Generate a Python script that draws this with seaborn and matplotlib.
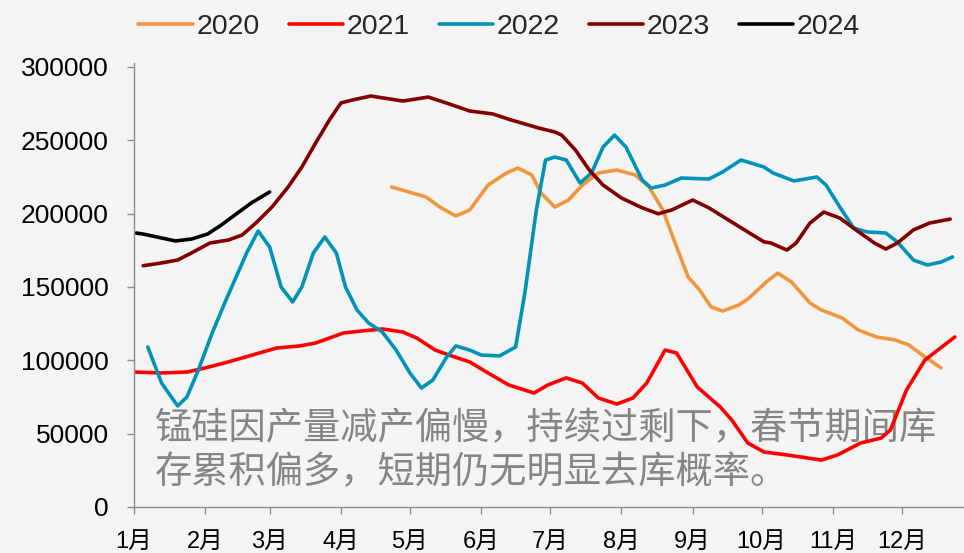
import pandas as pd
import seaborn as sns
import matplotlib.pyplot as plt
import matplotlib.dates as mdates
from matplotlib.ticker import FuncFormatter

# 数据（按图中读数估计）
dates_2020 = ['04-23', '05-08', '05-14', '05-21', '05-27', '06-04', '06-12', '06-17', '06-23',
              '06-27', '07-03', '07-09', '07-15', '07-22', '07-30', '08-07', '08-13', '08-19',
              '08-25', '08-30', '09-04', '09-09', '09-14', '09-21', '09-25', '10-03', '10-08',
              '10-14', '10-22', '10-27', '11-05', '11-12', '11-20', '11-28', '12-04', '12-11',
              '12-18']
vals_2020 = [218200, 211400, 204500, 198400, 202500, 219500, 227700, 231100, 226400,
             214100, 204500, 209300, 219500, 227700, 229800, 226400, 218200, 202500,
             177300, 156800, 148000, 136400, 133600, 137700, 141800, 153400, 159500,
             153400, 139100, 134300, 128900, 120700, 115900, 113900, 110500, 102300,
             94800]

dates_2021 = ['01-01', '01-13', '01-24', '02-01', '02-11', '02-23', '03-04', '03-14', '03-21',
              '04-02', '04-10', '04-19', '04-28', '05-04', '05-12', '05-18', '05-27', '06-04',
              '06-13', '06-24', '06-30', '07-08', '07-15', '07-22', '07-30', '08-06', '08-12',
              '08-20', '08-25', '09-03', '09-13', '09-18', '09-25', '10-02', '10-12', '10-27',
              '11-03', '11-13', '11-22', '11-26', '12-03', '12-11', '12-24']
vals_2021 = [92000, 91400, 92000, 94800, 98900, 104300, 108400, 109800, 111800,
             118600, 120000, 121400, 119300, 115200, 107000, 103600, 98900, 91400,
             83200, 77700, 83200, 88000, 84500, 74300, 70200, 74300, 84500,
             107000, 105000, 81800, 68200, 59300, 43600, 37500, 35500, 32000,
             35500, 43600, 47000, 52500, 79800, 100200, 115900]

dates_2022 = ['01-07', '01-13', '01-20', '01-24', '01-29', '02-04', '02-10', '02-19', '02-24',
              '03-01', '03-06', '03-11', '03-15', '03-20', '03-25', '03-30', '04-03', '04-08',
              '04-13', '04-19', '04-25', '05-01', '05-06', '05-11', '05-17', '05-21', '05-27',
              '06-01', '06-09', '06-16', '06-20', '06-25', '06-29', '07-03', '07-08', '07-14',
              '07-19', '07-24', '07-29', '08-03', '08-10', '08-14', '08-20', '08-27', '09-08',
              '09-14', '09-22', '10-02', '10-06', '10-15', '10-25', '10-29', '11-04', '11-10',
              '11-16', '11-24', '11-29', '12-06', '12-12', '12-18', '12-23']
vals_2022 = [109100, 84500, 68900, 75000, 93400, 118600, 141100, 173200, 188200,
             177300, 150000, 139800, 150000, 173200, 184100, 173200, 150000, 134300,
             125500, 119300, 107000, 91400, 81100, 86600, 102300, 109800, 107000,
             103600, 103000, 109100, 145900, 202500, 236600, 238600, 236600, 220900,
             227700, 245400, 253600, 245400, 223000, 217500, 219500, 224300, 223600,
             228400, 236600, 231800, 227700, 222300, 225000, 219500, 204500, 190200,
             187500, 186800, 180700, 168400, 165000, 167000, 170500]

dates_2023 = ['01-05', '01-13', '01-20', '01-26', '02-03', '02-11', '02-17', '02-23', '03-02',
              '03-09', '03-15', '03-21', '03-27', '04-01', '04-06', '04-14', '04-28', '05-09',
              '05-17', '05-27', '06-06', '06-14', '06-26', '07-03', '07-06', '07-12', '07-18',
              '07-24', '08-01', '08-10', '08-17', '08-23', '09-01', '09-08', '09-15', '09-25',
              '10-02', '10-05', '10-12', '10-16', '10-22', '10-28', '11-04', '11-11', '11-19',
              '11-24', '11-29', '12-06', '12-13', '12-22']
vals_2023 = [164500, 166400, 168400, 173200, 180000, 182000, 185400, 193600, 204500,
             218100, 231800, 248200, 263900, 275500, 277500, 280200, 276800, 279500,
             275400, 270000, 268000, 263900, 258400, 255700, 253600, 243400, 229800,
             219500, 210700, 204000, 199900, 202600, 209300, 204000, 197200, 187500,
             180800, 180000, 175200, 180000, 193600, 201100, 197000, 188900, 180000,
             175900, 180000, 188900, 193600, 196300]

dates_2024 = ['01-02', '01-05', '01-11', '01-19', '01-26', '02-02', '02-08', '02-15', '02-21',
              '03-01']
vals_2024 = [186800, 186100, 184100, 181400, 182700, 186100, 192300, 200400, 207300,
             214800]

years = ['2020', '2021', '2022', '2023', '2024']
colors = ['#F0963C', '#FF0000', '#0093B8', '#820000', '#000000']
month_labels = [f'{m}月' for m in range(1, 13)]
note = '锰硅因产量减产偏慢，持续过剩下，春节期间库\n存累积偏多，短期仍无明显去库概率。'

frames = []
for y, d, v in zip(years,
                   [dates_2020, dates_2021, dates_2022, dates_2023, dates_2024],
                   [vals_2020, vals_2021, vals_2022, vals_2023, vals_2024]):
    frames.append(pd.DataFrame({'date': pd.to_datetime(['2021-' + s for s in d]),
                                'value': v, 'year': y}))
df = pd.concat(frames, ignore_index=True)

sns.set_theme(style='white')
plt.rcParams['font.family'] = ['Liberation Sans', 'Noto Sans CJK SC', 'DejaVu Sans']

bg = '#F4F4F4'
fig = plt.figure(figsize=(9.64, 5.53), dpi=100, facecolor=bg)
ax = fig.add_axes([0.139, 0.0832, 0.861, 0.8036])
ax.set_facecolor(bg)

sns.lineplot(data=df, x='date', y='value', hue='year', palette=dict(zip(years, colors)),
             linewidth=2.6, sort=False, estimator=None, ax=ax)

ax.set_xlim(pd.Timestamp('2021-01-01'), pd.Timestamp('2021-12-28'))
ax.set_ylim(0, 303000)
ax.set_yticks(range(0, 300001, 50000))
ax.yaxis.set_major_formatter(FuncFormatter(lambda v, p: f'{int(v)}'))
ax.xaxis.set_major_locator(mdates.MonthLocator())
ax.xaxis.set_major_formatter(FuncFormatter(lambda v, p: month_labels[mdates.num2date(v).month - 1]))

ax.set_xlabel('')
ax.set_ylabel('')
for s in ['top', 'right']:
    ax.spines[s].set_visible(False)
for s in ['left', 'bottom']:
    ax.spines[s].set_color('#8C8C8C')
    ax.spines[s].set_linewidth(1)

ax.tick_params(axis='both', bottom=True, left=True, direction='out', length=5,
               width=1, color='#8C8C8C', labelcolor='black')
ax.tick_params(axis='y', pad=13, labelsize=19)
ax.tick_params(axis='x', pad=12, labelsize=17)

handles, labels = ax.get_legend_handles_labels()
ax.get_legend().remove()
fig.legend(handles, labels, loc='center', bbox_to_anchor=(0.518, 0.952), ncol=5,
           frameon=False, handlelength=1.9, handletextpad=0.15, columnspacing=1.0,
           prop={'size': 20.5})

ax.text(155 / 964, 1 - 451 / 553, note, transform=fig.transFigure, ha='left', va='center',
        fontsize=26.8, color='#858585', family=['Noto Sans CJK SC', 'DejaVu Sans'],
        linespacing=1.15, zorder=1)

fig.savefig('out.png', dpi=100, facecolor=bg)
